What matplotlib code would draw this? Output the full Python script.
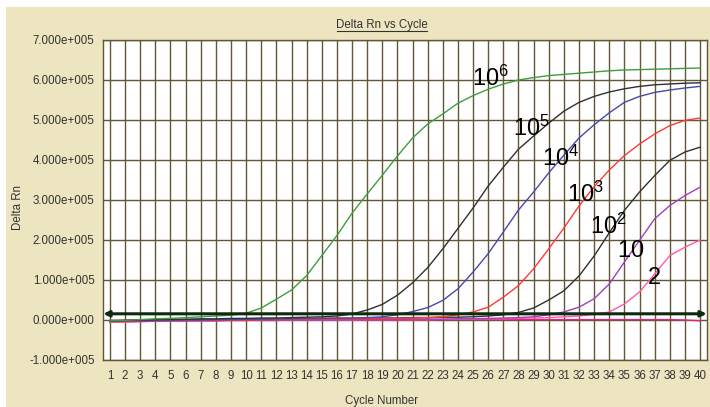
import numpy as np
import matplotlib
matplotlib.use("Agg")
import matplotlib.pyplot as plt
from matplotlib.patches import Rectangle
from matplotlib.lines import Line2D

plt.rcParams['font.family'] = ['Liberation Sans', 'DejaVu Sans']
plt.rcParams['mathtext.fontset'] = 'custom'
plt.rcParams['mathtext.rm'] = 'Liberation Sans'
plt.rcParams['mathtext.it'] = 'Liberation Sans:italic'

# ---------------- data (Delta Rn, units of 1e5) ----------------
cycles = list(range(1, 41))

green_1e6 = [-0.02, -0.01, 0.01, 0.03, 0.04, 0.06, 0.08, 0.10, 0.12, 0.17,
             0.30, 0.52, 0.75, 1.11, 1.61, 2.11, 2.67, 3.15, 3.62, 4.10,
             4.55, 4.90, 5.15, 5.42, 5.61, 5.77, 5.90, 6.00, 6.06, 6.11,
             6.14, 6.17, 6.20, 6.23, 6.25, 6.26, 6.27, 6.28, 6.29, 6.30]
black_1e5 = [-0.02, -0.01, 0.00, 0.01, 0.02, 0.02, 0.03, 0.03, 0.04, 0.04,
             0.05, 0.05, 0.06, 0.07, 0.08, 0.10, 0.15, 0.25, 0.39, 0.62,
             0.93, 1.31, 1.78, 2.29, 2.80, 3.35, 3.82, 4.27, 4.60, 4.92,
             5.22, 5.44, 5.59, 5.70, 5.78, 5.84, 5.88, 5.90, 5.92, 5.93]
blue_1e4 = [-0.03, -0.02, -0.02, -0.01, -0.01, 0.00, 0.00, 0.01, 0.01, 0.02,
            0.02, 0.03, 0.03, 0.04, 0.04, 0.05, 0.05, 0.06, 0.08, 0.13,
            0.21, 0.31, 0.49, 0.78, 1.20, 1.66, 2.20, 2.75, 3.20, 3.68,
            4.12, 4.55, 4.88, 5.18, 5.44, 5.59, 5.69, 5.75, 5.80, 5.84]
red_1e3 = [-0.04, -0.03, -0.03, -0.02, -0.02, -0.01, -0.01, 0.00, 0.00, 0.00,
           0.01, 0.01, 0.01, 0.02, 0.02, 0.02, 0.03, 0.03, 0.04, 0.04,
           0.05, 0.06, 0.08, 0.13, 0.20, 0.32, 0.57, 0.86, 1.28, 1.78,
           2.30, 2.85, 3.33, 3.75, 4.11, 4.40, 4.65, 4.86, 4.99, 5.05]
black_1e2 = [-0.01, -0.01, 0.00, 0.00, 0.00, 0.01, 0.01, 0.01, 0.02, 0.02,
             0.02, 0.03, 0.03, 0.03, 0.04, 0.04, 0.04, 0.05, 0.05, 0.05,
             0.06, 0.06, 0.07, 0.07, 0.08, 0.10, 0.13, 0.19, 0.30, 0.50,
             0.73, 1.10, 1.60, 2.18, 2.74, 3.20, 3.61, 3.99, 4.20, 4.32]
purple_10 = [-0.03, -0.03, -0.03, -0.03, -0.02, -0.02, -0.02, -0.02, -0.01, -0.01,
             -0.01, -0.01, 0.00, 0.00, 0.00, 0.00, 0.01, 0.01, 0.01, 0.01,
             0.02, 0.02, 0.02, 0.03, 0.03, 0.04, 0.05, 0.06, 0.08, 0.13,
             0.20, 0.32, 0.53, 0.90, 1.45, 1.99, 2.53, 2.86, 3.11, 3.32]
pink_2 = [-0.06, -0.05, -0.04, -0.03, -0.03, -0.02, -0.02, -0.02, -0.01, -0.01,
          -0.01, -0.01, 0.00, 0.00, 0.00, 0.00, 0.00, 0.01, 0.01, 0.01,
          0.01, 0.01, 0.02, 0.02, 0.02, 0.03, 0.03, 0.04, 0.05, 0.06,
          0.08, 0.10, 0.14, 0.20, 0.40, 0.70, 1.15, 1.61, 1.82, 2.00]
ntc = [-0.06, -0.05, -0.04, -0.03, -0.02, -0.02, -0.01, -0.01, -0.01, -0.01,
       0.00, 0.00, 0.00, 0.00, 0.00, 0.00, 0.00, 0.00, 0.00, 0.00,
       0.00, 0.00, 0.01, 0.01, 0.01, 0.01, 0.01, 0.01, 0.01, 0.01,
       0.01, 0.01, 0.01, 0.01, 0.01, 0.01, 0.01, 0.01, 0.00, -0.02]

series = [
    (ntc, '#e8207e'),
    (pink_2, '#ff5aa8'),
    (purple_10, '#a040b8'),
    (black_1e2, '#303030'),
    (red_1e3, '#ff3838'),
    (blue_1e4, '#4848b0'),
    (black_1e5, '#303030'),
    (green_1e6, '#3c9e3c'),
]

threshold = 0.155  # units of 1e5

label_texts = [r'$\mathregular{10^6}$', r'$\mathregular{10^5}$', r'$\mathregular{10^4}$',
               r'$\mathregular{10^3}$', r'$\mathregular{10^2}$', r'$\mathregular{10}$',
               r'$\mathregular{2}$']
label_x = [24.91, 27.66, 29.53, 31.19, 32.73, 34.49, 36.47]
label_y = [5.86, 4.61, 3.86, 2.94, 2.15, 1.57, 0.905]

y_ticks = [-1, 0, 1, 2, 3, 4, 5, 6, 7]
y_ticklabels = ['-1.000e+005', '0.000e+000', '1.000e+005', '2.000e+005',
                '3.000e+005', '4.000e+005', '5.000e+005', '6.000e+005',
                '7.000e+005']

# ---------------- figure ----------------
W, H = 710, 407
fig = plt.figure(figsize=(W / 100, H / 100), dpi=100)
fig.patch.set_facecolor('white')
beige = '#ede5bf'
fig.patches.append(Rectangle((6 / W, 0), 1 - 6 / W, 1 - 7 / H,
                             transform=fig.transFigure, facecolor=beige,
                             edgecolor='none', zorder=-5))

ax = fig.add_axes([103 / W, (H - 360) / H, (707 - 103) / W, 320 / H])
ax.set_zorder(1)
ax.set_facecolor('white')
grid_c = '#625634'

x = np.array(cycles)
for vals, col in series:
    ax.plot(x, np.array(vals) * 1e5, color=col, lw=1.0, zorder=3)

ax.set_xlim(0.54, 40.46)
ax.set_ylim(-1e5, 7e5)
ax.set_xticks(cycles)
ax.set_xticklabels([str(c) for c in cycles])
ax.set_yticks([v * 1e5 for v in y_ticks])
ax.set_yticklabels(y_ticklabels)
ax.tick_params(length=0, labelsize=8.3, colors='#333333')
ax.tick_params(axis='x', pad=7)
ax.tick_params(axis='y', pad=6)
ax.grid(True, color=grid_c, lw=1.0, zorder=1)
ax.set_axisbelow(True)
for s in ax.spines.values():
    s.set_color(grid_c)
    s.set_linewidth(1.0)

# threshold line with arrows
xl = ax.get_xlim()
ax.annotate('', xy=(xl[1] - 0.02, threshold * 1e5), xytext=(xl[0] + 0.02, threshold * 1e5),
            arrowprops=dict(arrowstyle='<|-|>', color='#0e2a0e', lw=2.2,
                            mutation_scale=8, shrinkA=0, shrinkB=0),
            zorder=5, annotation_clip=False)

for t, cx, cy in zip(label_texts, label_x, label_y):
    ax.text(cx, cy * 1e5, t, fontsize=17, color='black', ha='left',
            va='baseline', zorder=6)

# titles / labels
fig.text(382 / W, 1 - 28 / H, 'Delta Rn vs Cycle', fontsize=8.3, color='#333333',
         ha='center', va='baseline')
fig.add_artist(Line2D([337 / W, 427 / W], [1 - 30.5 / H, 1 - 30.5 / H],
                      transform=fig.transFigure, color='#333333', lw=0.8))
fig.text(18 / W, 1 - 208 / H, 'Delta Rn', fontsize=8.3, color='#333333',
         rotation=90, ha='center', va='center')
fig.text(382 / W, 1 - 395 / H, 'Cycle Number', fontsize=8.3, color='#333333',
         ha='center', va='top')

fig.savefig('out.png', dpi=100, facecolor=fig.get_facecolor())
